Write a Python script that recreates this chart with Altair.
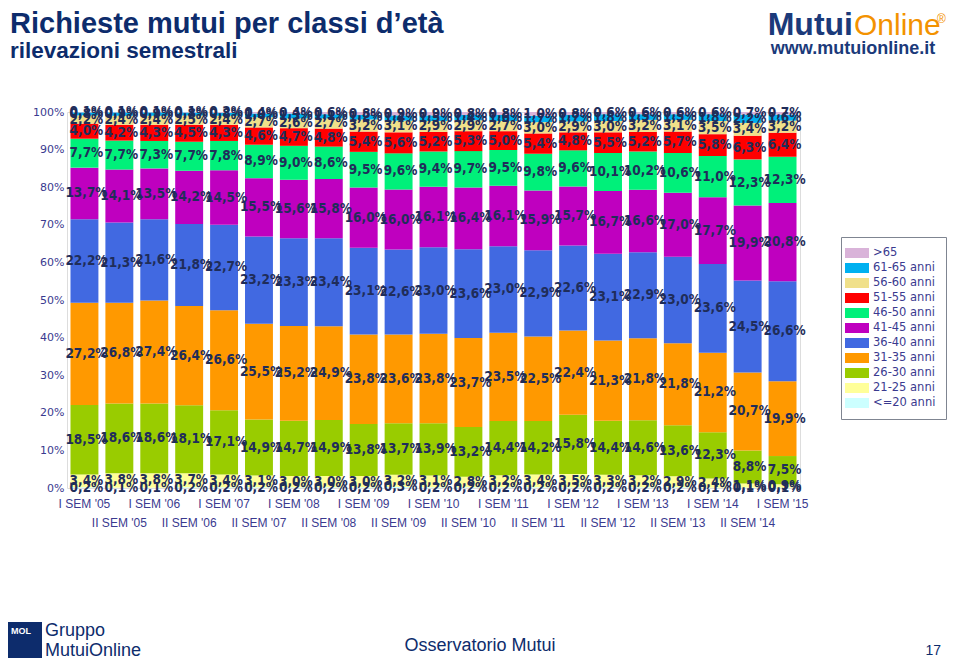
import altair as alt
import pandas as pd

periods = ["I SEM '05", "II SEM '05", "I SEM '06", "II SEM '06", "I SEM '07", "II SEM '07",
           "I SEM '08", "II SEM '08", "I SEM '09", "II SEM '09", "I SEM '10", "II SEM '10",
           "I SEM '11", "II SEM '11", "I SEM '12", "II SEM '12", "I SEM '13", "II SEM '13",
           "I SEM '14", "II SEM '14", "I SEM '15"]

# bottom -> top
categories = ["<=20 anni", "21-25 anni", "26-30 anni", "31-35 anni", "36-40 anni", "41-45 anni",
              "46-50 anni", "51-55 anni", "56-60 anni", "61-65 anni", ">65"]
colors = ["#CCFFFF", "#FFFF99", "#99CC00", "#FF9900", "#4169E1", "#BF00BF",
          "#00F07A", "#FF0000", "#F0E08A", "#00B0F0", "#D9B3D9"]

v_le20 = [0.2, 0.1, 0.1, 0.2, 0.2, 0.2, 0.2, 0.2, 0.2, 0.3, 0.2, 0.2, 0.2, 0.2, 0.2, 0.2, 0.2, 0.2, 0.1, 0.1, 0.1]
v_21_25 = [3.4, 3.8, 3.8, 3.7, 3.4, 3.1, 3.0, 3.0, 3.0, 3.2, 3.1, 2.8, 3.2, 3.4, 3.5, 3.3, 3.2, 2.9, 2.4, 1.1, 0.9]
v_26_30 = [18.5, 18.6, 18.6, 18.1, 17.1, 14.9, 14.7, 14.9, 13.8, 13.7, 13.9, 13.2, 14.4, 14.2, 15.8, 14.4, 14.6, 13.6, 12.3, 8.8, 7.5]
v_31_35 = [27.2, 26.8, 27.4, 26.4, 26.6, 25.5, 25.2, 24.9, 23.8, 23.6, 23.8, 23.7, 23.5, 22.5, 22.4, 21.3, 21.8, 21.8, 21.2, 20.7, 19.9]
v_36_40 = [22.2, 21.3, 21.6, 21.8, 22.7, 23.2, 23.3, 23.4, 23.1, 22.6, 23.0, 23.6, 23.0, 22.9, 22.6, 23.1, 22.9, 23.0, 23.6, 24.5, 26.6]
v_41_45 = [13.7, 14.1, 13.5, 14.2, 14.5, 15.5, 15.6, 15.8, 16.0, 16.0, 16.1, 16.4, 16.1, 15.9, 15.7, 16.7, 16.6, 17.0, 17.7, 19.9, 20.8]
v_46_50 = [7.7, 7.7, 7.3, 7.7, 7.8, 8.9, 9.0, 8.6, 9.5, 9.6, 9.4, 9.7, 9.5, 9.8, 9.6, 10.1, 10.2, 10.6, 11.0, 12.3, 12.3]
v_51_55 = [4.0, 4.2, 4.3, 4.5, 4.3, 4.6, 4.7, 4.8, 5.4, 5.6, 5.2, 5.3, 5.0, 5.4, 4.8, 5.5, 5.2, 5.7, 5.8, 6.3, 6.4]
v_56_60 = [2.2, 2.4, 2.4, 2.5, 2.4, 2.7, 2.6, 2.7, 3.2, 3.1, 2.9, 2.9, 2.7, 3.0, 2.9, 3.0, 3.2, 3.1, 3.5, 3.4, 3.2]
v_61_65 = [0.8, 0.9, 0.9, 0.8, 0.8, 1.0, 1.3, 1.1, 1.2, 1.4, 1.5, 1.4, 1.6, 1.7, 1.7, 1.8, 1.5, 1.5, 1.8, 2.2, 1.6]
v_gt65 = [0.1, 0.1, 0.1, 0.1, 0.2, 0.4, 0.4, 0.6, 0.8, 0.9, 0.9, 0.8, 0.8, 1.0, 0.8, 0.6, 0.6, 0.6, 0.6, 0.7, 0.7]

y_ticks = [0, 10, 20, 30, 40, 50, 60, 70, 80, 90, 100]

series = [v_le20, v_21_25, v_26_30, v_31_35, v_36_40, v_41_45, v_46_50, v_51_55, v_56_60, v_61_65, v_gt65]

rows = []
for ci, (cat, vals) in enumerate(zip(categories, series)):
    for pi, p in enumerate(periods):
        rows.append({"period": p, "pidx": pi, "cat": cat, "ord": ci, "value": vals[pi]})
df = pd.DataFrame(rows)

lab_df = pd.DataFrame({"period": periods, "row": [i % 2 for i in range(len(periods))]})

NAVY = "#0D2C6C"
AXC = "#3A3A8F"
LABC = "#1F2D5A"

W, H = 733, 376

xenc = alt.X("period:N", sort=periods, axis=None,
             scale=alt.Scale(paddingInner=0.2, paddingOuter=0.1))
yscale = alt.Scale(domain=[0, 100], nice=False)
yaxis = alt.Axis(values=y_ticks, labelExpr="datum.value + '%'",
                 grid=False, ticks=False, domain=False, title=None, labelOverlap=False,
                 labelColor=AXC, labelFont="DejaVu Sans", labelFontSize=11, labelPadding=3)

base = alt.Chart(df).transform_stack(
    stack="value", groupby=["period"], sort=[alt.SortField("ord", order="ascending")], as_=["y0", "y1"]
).transform_calculate(
    mid="(datum.y0 + datum.y1) / 2",
    lab="replace(format(datum.value, '.1f'), '.', ',') + '%'"
)

bars = base.mark_bar().encode(
    x=xenc,
    y=alt.Y("y0:Q", scale=yscale, axis=yaxis),
    y2="y1:Q",
    color=alt.Color("cat:N",
                    scale=alt.Scale(domain=categories[::-1], range=colors[::-1]),
                    legend=alt.Legend(title=None, orient="none", legendX=774, legendY=125,
                                      symbolType="M-2,-0.83H2V0.83H-2Z", symbolSize=144,
                                      symbolStrokeWidth=0, labelFont="DejaVu Sans", labelFontSize=11.5,
                                      labelColor=AXC, labelOffset=10, rowPadding=3, padding=10,
                                      strokeColor="#7F8591", fillColor="white")),
)

labels = base.mark_text(font="DejaVu Sans Condensed", fontWeight="bold", fontSize=13.5,
                        color=LABC, dx=2).encode(
    x=xenc, y=alt.Y("mid:Q", scale=yscale, axis=yaxis), text="lab:N"
)

xl1 = alt.Chart(lab_df).transform_filter("datum.row == 0").mark_text(
    font="Liberation Sans", fontSize=12, color=AXC, baseline="alphabetic").encode(
    x=xenc, y=alt.value(H + 20), text="period:N")
xl2 = alt.Chart(lab_df).transform_filter("datum.row == 1").mark_text(
    font="Liberation Sans", fontSize=12, color=AXC, baseline="alphabetic").encode(
    x=xenc, y=alt.value(H + 39), text="period:N")

one = pd.DataFrame({"a": [0]})


def txt(t, x, y, size, color, weight="normal", align="left", font="Liberation Sans"):
    return alt.Chart(one).mark_text(text=t, fontSize=size, color=color, fontWeight=weight,
                                    align=align, baseline="alphabetic", font=font).encode(
        x=alt.value(x), y=alt.value(y))


title = txt("Richieste mutui per classi d\u2019età", -57, -79, 29, NAVY, "bold")
subtitle = txt("rilevazioni semestrali", -57, -54, 22.5, NAVY, "bold")
logo1 = txt("Mutui", 786, -77, 32, "#1B3A7A", "bold", "right")
logo2 = txt("Online", 787, -77, 30, "#F39200", "normal", "left")
logo3 = txt("®", 870, -89, 12, "#F39200")
logo4 = txt("www.mutuionline.it", 786, -58, 18, "#1B3A7A", "bold", "center")

molbox = alt.Chart(one).mark_rect(color="#0D2C6C").encode(
    x=alt.value(-59), x2=alt.value(-25), y=alt.value(510), y2=alt.value(560))
mol = txt("MOL", -56, 522, 9, "white", "bold")
g1 = txt("Gruppo", -22, 524, 18, NAVY, "normal")
g2 = txt("MutuiOnline", -22, 544, 18, NAVY, "normal")
obs = txt("Osservatorio Mutui", 413, 539, 18, NAVY, "normal", "center")
page = txt("17", 874, 543, 14, NAVY, "normal", "right")

chart = alt.layer(bars, labels, xl1, xl2, title, subtitle, logo1, logo2, logo3, logo4,
                  molbox, mol, g1, g2, obs, page).properties(
    width=W, height=H,
    padding={"left": 59, "top": 104, "right": 150, "bottom": 170},
    autosize=alt.AutoSizeParams(type="none"),
).configure_view(stroke=None).configure(background="white")

chart.save("out.html", embed_options={"renderer": "svg", "actions": False})
